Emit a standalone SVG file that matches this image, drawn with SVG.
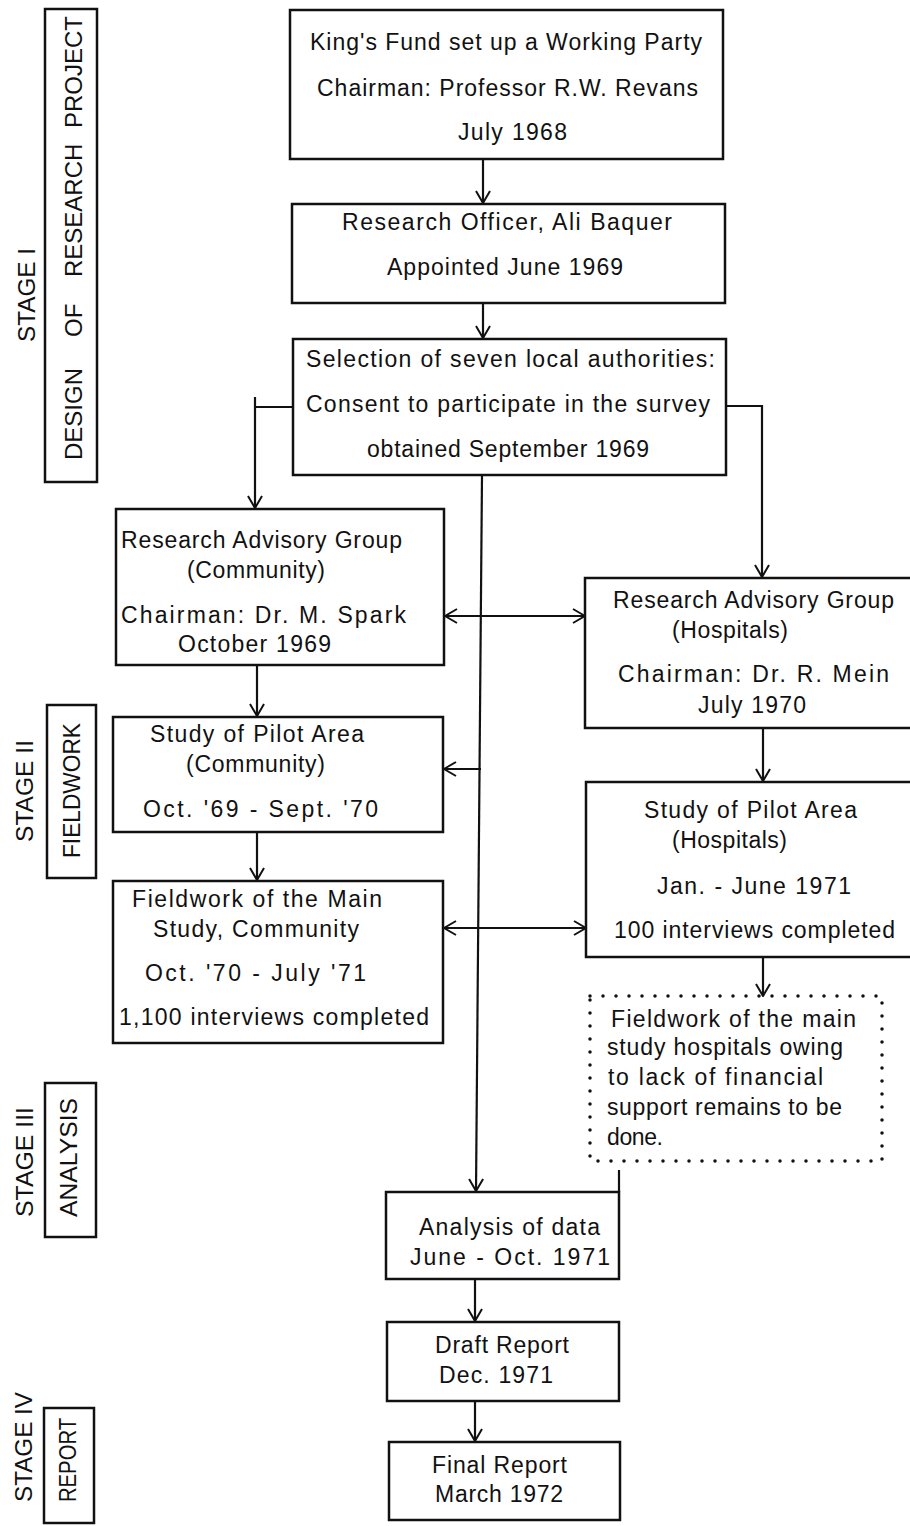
<svg xmlns="http://www.w3.org/2000/svg" width="910" height="1526" viewBox="0 0 910 1526">
<style>
  .box { fill: none; stroke: #111; stroke-width: 2.5; }
  .dot { fill: none; stroke: #111; stroke-width: 3.5; stroke-linecap: round; stroke-dasharray: 0 13; }
  .t { font-family: "Liberation Sans", Arial, sans-serif; font-size: 23px; fill: #111; }
  .s { font-family: "Liberation Sans", Arial, sans-serif; font-size: 24px; fill: #111; }
  .c { fill: none; stroke: #111; stroke-width: 2.2; }
</style>
<defs>
  <marker id="arr" viewBox="0 0 14 16" refX="13" refY="8" markerWidth="14" markerHeight="16" markerUnits="userSpaceOnUse" orient="auto-start-reverse">
    <path d="M1,1 L13,8 L1,15" fill="none" stroke="#111" stroke-width="2"/>
  </marker>
</defs>
<rect width="910" height="1526" fill="#fff"/>

<g id="stage1">
  <rect class="box" x="45" y="9" width="52" height="473"/>
  <text class="s" transform="rotate(-90 35 342)" x="35" y="342" textLength="94" lengthAdjust="spacingAndGlyphs">STAGE I</text>
  <text class="s" transform="translate(82,0) rotate(-90)">
    <tspan x="-460" y="0">DESIGN</tspan><tspan x="-337" y="0">OF</tspan><tspan x="-277" y="0">RESEARCH</tspan><tspan x="-128" y="0">PROJECT</tspan>
  </text>
</g>
<g id="stage2">
  <rect class="box" x="47" y="705" width="49" height="173"/>
  <text class="s" transform="rotate(-90 33 842)" x="33" y="842" textLength="102" lengthAdjust="spacingAndGlyphs">STAGE II</text>
  <text class="s" transform="rotate(-90 80 858)" x="80" y="858" textLength="135" lengthAdjust="spacingAndGlyphs">FIELDWORK</text>
</g>
<g id="stage3">
  <rect class="box" x="45" y="1083" width="51" height="154"/>
  <text class="s" transform="rotate(-90 33 1217)" x="33" y="1217" textLength="110" lengthAdjust="spacingAndGlyphs">STAGE III</text>
  <text class="s" transform="rotate(-90 77 1217)" x="77" y="1217" textLength="119" lengthAdjust="spacingAndGlyphs">ANALYSIS</text>
</g>
<g id="stage4">
  <rect class="box" x="44" y="1408" width="50" height="115"/>
  <text class="s" transform="rotate(-90 32 1502)" x="32" y="1502" textLength="110" lengthAdjust="spacingAndGlyphs">STAGE IV</text>
  <text class="s" transform="rotate(-90 76 1502)" x="76" y="1502" textLength="84" lengthAdjust="spacingAndGlyphs">REPORT</text>
</g>

<g id="connectors">
  <path class="c" d="M483,159 V203" marker-end="url(#arr)"/>
  <path class="c" d="M483,303 V338" marker-end="url(#arr)"/>
  <path class="c" d="M293,407 H255"/>
  <path class="c" d="M255,397 V508" marker-end="url(#arr)"/>
  <path class="c" d="M726,406 H762 V577" marker-end="url(#arr)"/>
  <path class="c" d="M482,475 L476,1191" marker-end="url(#arr)"/>
  <path class="c" d="M445,616 H585" marker-start="url(#arr)" marker-end="url(#arr)"/>
  <path class="c" d="M257,665 V716" marker-end="url(#arr)"/>
  <path class="c" d="M481,769 H444" marker-end="url(#arr)"/>
  <path class="c" d="M763,728 V781" marker-end="url(#arr)"/>
  <path class="c" d="M257,832 V880" marker-end="url(#arr)"/>
  <path class="c" d="M444,928 H586" marker-start="url(#arr)" marker-end="url(#arr)"/>
  <path class="c" d="M763,957 V996" marker-end="url(#arr)"/>
  <path class="c" d="M475,1279 V1321" marker-end="url(#arr)"/>
  <path class="c" d="M475,1401 V1441" marker-end="url(#arr)"/>
</g>

<g id="kings-fund">
  <rect class="box" x="290" y="10" width="433" height="149"/>
  <text class="t" x="310" y="50" textLength="392" lengthAdjust="spacing">King's Fund set up a Working Party</text>
  <text class="t" x="317" y="96" textLength="381" lengthAdjust="spacing">Chairman:  Professor R.W. Revans</text>
  <text class="t" x="458" y="140" textLength="109" lengthAdjust="spacing">July 1968</text>
</g>
<g id="research-officer">
  <rect class="box" x="292" y="204" width="433" height="99"/>
  <text class="t" x="342" y="230" textLength="330" lengthAdjust="spacing">Research Officer, Ali Baquer</text>
  <text class="t" x="387" y="275" textLength="236" lengthAdjust="spacing">Appointed June 1969</text>
</g>
<g id="selection">
  <rect class="box" x="293" y="339" width="433" height="136"/>
  <text class="t" x="306" y="367" textLength="409" lengthAdjust="spacing">Selection of seven local authorities:</text>
  <text class="t" x="306" y="412" textLength="404" lengthAdjust="spacing">Consent to participate in the survey</text>
  <text class="t" x="367" y="457" textLength="282" lengthAdjust="spacing">obtained September 1969</text>
</g>
<g id="rag-community">
  <rect class="box" x="116" y="509" width="328" height="156"/>
  <text class="t" x="121" y="548" textLength="281" lengthAdjust="spacing">Research Advisory Group</text>
  <text class="t" x="187" y="578" textLength="138" lengthAdjust="spacing">(Community)</text>
  <text class="t" x="121" y="623" textLength="285" lengthAdjust="spacing">Chairman:  Dr. M. Spark</text>
  <text class="t" x="178" y="652" textLength="153" lengthAdjust="spacing">October 1969</text>
</g>
<g id="rag-hospitals">
  <rect class="box" x="585" y="578" width="340" height="150"/>
  <text class="t" x="613" y="608" textLength="281" lengthAdjust="spacing">Research Advisory Group</text>
  <text class="t" x="672" y="638" textLength="116" lengthAdjust="spacing">(Hospitals)</text>
  <text class="t" x="618" y="682" textLength="271" lengthAdjust="spacing">Chairman:  Dr. R. Mein</text>
  <text class="t" x="698" y="713" textLength="108" lengthAdjust="spacing">July 1970</text>
</g>
<g id="pilot-community">
  <rect class="box" x="113" y="717" width="330" height="115"/>
  <text class="t" x="150" y="742" textLength="214" lengthAdjust="spacing">Study of Pilot Area</text>
  <text class="t" x="186" y="772" textLength="139" lengthAdjust="spacing">(Community)</text>
  <text class="t" x="143" y="817" textLength="235" lengthAdjust="spacing">Oct. '69 - Sept. '70</text>
</g>
<g id="pilot-hospitals">
  <rect class="box" x="586" y="782" width="340" height="175"/>
  <text class="t" x="644" y="818" textLength="213" lengthAdjust="spacing">Study of Pilot Area</text>
  <text class="t" x="672" y="848" textLength="115" lengthAdjust="spacing">(Hospitals)</text>
  <text class="t" x="657" y="894" textLength="194" lengthAdjust="spacing">Jan. - June 1971</text>
  <text class="t" x="614" y="938" textLength="281" lengthAdjust="spacing">100 interviews completed</text>
</g>
<g id="fieldwork-main">
  <rect class="box" x="113" y="881" width="330" height="162"/>
  <text class="t" x="132" y="907" textLength="250" lengthAdjust="spacing">Fieldwork of the Main</text>
  <text class="t" x="153" y="937" textLength="206" lengthAdjust="spacing">Study, Community</text>
  <text class="t" x="145" y="981" textLength="221" lengthAdjust="spacing">Oct. '70 - July '71</text>
  <text class="t" x="119" y="1025" textLength="310" lengthAdjust="spacing">1,100 interviews completed</text>
</g>
<g id="fieldwork-hospitals-note">
  <rect class="dot" x="590" y="996" width="292" height="165"/>
  <text class="t" x="611" y="1027" textLength="245" lengthAdjust="spacing">Fieldwork of the main</text>
  <text class="t" x="607" y="1055" textLength="236" lengthAdjust="spacing">study hospitals owing</text>
  <text class="t" x="608" y="1085" textLength="215" lengthAdjust="spacing">to lack of financial</text>
  <text class="t" x="607" y="1115" textLength="235" lengthAdjust="spacing">support remains to be</text>
  <text class="t" x="607" y="1145" textLength="56" lengthAdjust="spacing">done.</text>
</g>
<g id="analysis">
  <rect class="box" x="386" y="1192" width="233" height="87"/>
  <path class="c" d="M619,1170 V1192"/>
  <text class="t" x="419" y="1235" textLength="181" lengthAdjust="spacing">Analysis of data</text>
  <text class="t" x="410" y="1265" textLength="200" lengthAdjust="spacing">June - Oct. 1971</text>
</g>
<g id="draft-report">
  <rect class="box" x="387" y="1322" width="232" height="79"/>
  <text class="t" x="435" y="1353" textLength="134" lengthAdjust="spacing">Draft Report</text>
  <text class="t" x="439" y="1383" textLength="114" lengthAdjust="spacing">Dec. 1971</text>
</g>
<g id="final-report">
  <rect class="box" x="389" y="1442" width="231" height="78"/>
  <text class="t" x="432" y="1473" textLength="135" lengthAdjust="spacing">Final Report</text>
  <text class="t" x="435" y="1502" textLength="128" lengthAdjust="spacing">March 1972</text>
</g>
</svg>
